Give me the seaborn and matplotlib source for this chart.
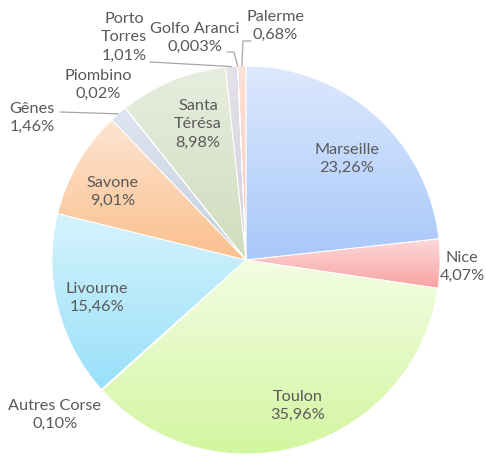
import numpy as np
import matplotlib.pyplot as plt
import matplotlib.colors as mcolors
import seaborn as sns

ports = ['Marseille', 'Nice', 'Toulon', 'Autres Corse', 'Livourne', 'Savone',
         'Gênes', 'Piombino', 'Santa\nTérésa', 'Porto\nTorres', 'Golfo Aranci', 'Palerme']
shares = [23.26, 4.07, 35.96, 0.10, 15.46, 9.01, 1.46, 0.02, 8.98, 1.01, 0.003, 0.68]
pct_labels = ['23,26%', '4,07%', '35,96%', '0,10%', '15,46%', '9,01%',
              '1,46%', '0,02%', '8,98%', '1,01%', '0,003%', '0,68%']

# gradient colours (top, bottom) per slice
top_colors = ['#dde9fd', '#fddada', '#f3fde3', '#e6f0fa', '#d6f3fd', '#fde5d2',
              '#dfe5f0', '#e8e8ee', '#e8eddf', '#e4e1ea', '#ece8f0', '#fde0d8']
bottom_colors = ['#a8c8fa', '#f9a3a3', '#d3f6a0', '#c8d8ee', '#98e0f9', '#fbbf8d',
                 '#c5cfe0', '#d0d0dc', '#d0dcbd', '#d4d0dc', '#d8d4e0', '#fbc7b8']

# label centres in pixels (from top-left)
label_px = [(347, 159), (462, 267), (298, 406), (55, 415), (97, 298), (113, 192),
            (32, 118), (98, 85), (198, 124), (124, 37), (195, 38), (275, 26)]

W, H = 486, 457
CX, CY, R = 246, 260, 194


def px(p):
    return ((p[0] - CX) / R, (CY - p[1]) / R)


sns.set_theme(style='white')
plt.rcParams['font.family'] = ['Lato', 'DejaVu Sans']

fig = plt.figure(figsize=(W / 100, H / 100), dpi=100)
ax = fig.add_axes([0, 0, 1, 1])

wedges, _ = ax.pie(shares, startangle=90, counterclock=False, radius=1,
                   colors=bottom_colors,
                   wedgeprops=dict(edgecolor='white', linewidth=0.6))

ax.set_xlim(-CX / R, (W - CX) / R)
ax.set_ylim(-(H - CY) / R, CY / R)
ax.set_aspect('equal')
ax.axis('off')

# gradient fill clipped to each wedge
grad = np.linspace(0, 1, 256).reshape(-1, 1)
for w, c0, c1 in zip(wedges, top_colors, bottom_colors):
    cmap = mcolors.LinearSegmentedColormap.from_list('g', [c0, c1])
    ext = w.get_path().get_extents(w.get_patch_transform())
    im = ax.imshow(grad, cmap=cmap, aspect='auto', origin='upper',
                   extent=[ext.x0, ext.x1, ext.y0, ext.y1], zorder=1.5,
                   interpolation='bilinear')
    im.set_clip_path(w)
    w.set_facecolor('none')
    w.set_zorder(2)

text_kw = dict(ha='center', va='center', fontsize=11.7, color='#595959', linespacing=1.4)
line_kw = dict(color='#a6a6a6', lw=0.9, zorder=3)

for name, pct, pos in zip(ports, pct_labels, label_px):
    ax.text(*px(pos), f'{name}\n{pct}', **text_kw)


# leader lines for the thin slices
def edge(i, r=1.0):
    w = wedges[i]
    a = np.deg2rad((w.theta1 + w.theta2) / 2)
    return r * np.cos(a), r * np.sin(a)


gx, gy = edge(6)
ax.plot([px((60, 112))[0], gx], [px((60, 112))[1], gy], **line_kw)
tx, ty = edge(9)
ax.plot([px((150, 62))[0], tx], [px((150, 62))[1], ty], **line_kw)
ox, oy = edge(10)
p1, p2 = px((227, 52)), px((234, 52))
ax.plot([p1[0], p2[0], ox], [p1[1], p2[1], oy], **line_kw)
lx, ly = edge(11)
q1, q2 = px((251, 41)), px((243, 41))
ax.plot([q1[0], q2[0], lx], [q1[1], q2[1], ly], **line_kw)

fig.savefig('out.png', dpi=100, facecolor='white')
